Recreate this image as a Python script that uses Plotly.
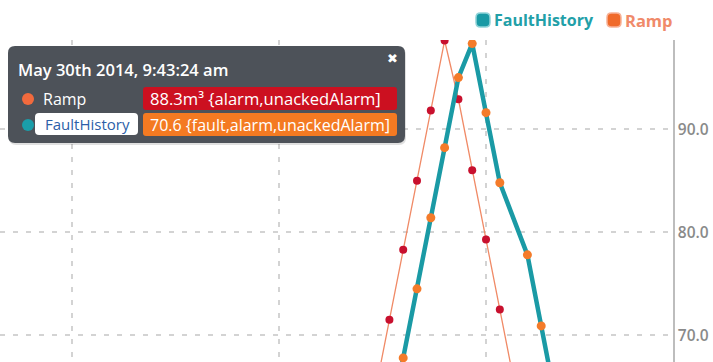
import plotly.graph_objects as go

# ---- data ----
ramp_times = ["2014-05-30 09:44:28", "2014-05-30 09:44:32", "2014-05-30 09:44:36",
              "2014-05-30 09:44:40", "2014-05-30 09:44:44", "2014-05-30 09:44:48",
              "2014-05-30 09:44:52", "2014-05-30 09:44:56", "2014-05-30 09:45:00",
              "2014-05-30 09:45:04", "2014-05-30 09:45:08"]
ramp_values = [64.7, 71.5, 78.3, 85.0, 91.8, 98.6, 92.9, 86.0, 79.3, 72.5, 65.7]

fault_times = ["2014-05-30 09:44:32", "2014-05-30 09:44:36", "2014-05-30 09:44:40",
               "2014-05-30 09:44:44", "2014-05-30 09:44:48", "2014-05-30 09:44:52",
               "2014-05-30 09:44:56", "2014-05-30 09:45:00", "2014-05-30 09:45:04",
               "2014-05-30 09:45:12", "2014-05-30 09:45:16", "2014-05-30 09:45:20"]
fault_values = [61.0, 67.8, 74.5, 81.4, 88.2, 95.0, 98.3, 91.6, 84.8, 77.8, 70.9, 64.0]

tooltip_title = "May 30th 2014, 9:43:24 am"
tooltip_rows = [
    ("Ramp", "88.3m³ {alarm,unackedAlarm]"),
    ("FaultHistory", "70.6 {fault,alarm,unackedAlarm]"),
]
legend_names = ["FaultHistory", "Ramp"]

# ---- styling ----
TEAL = "#1a9aa5"
ORANGE = "#f47b2a"
RAMP_LINE = "#f08a66"
RAMP_MARK = "#c8102e"
FONT = "Open Sans"

W, H = 713, 362
ML, MR, MT, MB = 0, 40, 40, 0
PW, PH = W - ML - MR, H - MT - MB


def fx(px):
    return (px - ML) / PW


def fy(py):
    return (H - MB - py) / PH


def rrect(x0, y0, x1, y1, r):
    pts = [
        ("M", [(x0 + r, y0)]), ("L", [(x1 - r, y0)]), ("Q", [(x1, y0), (x1, y0 + r)]),
        ("L", [(x1, y1 - r)]), ("Q", [(x1, y1), (x1 - r, y1)]),
        ("L", [(x0 + r, y1)]), ("Q", [(x0, y1), (x0, y1 - r)]),
        ("L", [(x0, y0 + r)]), ("Q", [(x0, y0), (x0 + r, y0)]),
    ]
    s = ""
    for cmd, coords in pts:
        s += cmd + " " + " ".join(f"{fx(a):.5f},{fy(b):.5f}" for a, b in coords) + " "
    return s + "Z"


fig = go.Figure()

fig.add_trace(go.Scatter(
    x=ramp_times, y=ramp_values, name="Ramp", mode="lines+markers",
    line=dict(color=RAMP_LINE, width=1.3),
    marker=dict(color=RAMP_MARK, size=8),
))
fig.add_trace(go.Scatter(
    x=fault_times, y=fault_values, name="FaultHistory", mode="lines+markers",
    line=dict(color=TEAL, width=4.5),
    marker=dict(color=ORANGE, size=9),
))

shapes = []
annotations = []

# tooltip panel
shapes.append(dict(type="path", xref="paper", yref="paper",
                   path=rrect(9, 48, 406, 145, 7),
                   fillcolor="rgba(0,0,0,0.12)", line=dict(width=0), layer="above"))
shapes.append(dict(type="path", xref="paper", yref="paper",
                   path=rrect(8, 46, 405, 143, 7),
                   fillcolor="#4d5259", line=dict(width=0), layer="above"))
annotations.append(dict(xref="paper", yref="paper", x=fx(16), y=fy(69),
                        xanchor="left", yanchor="middle", showarrow=False,
                        text=tooltip_title,
                        font=dict(family=FONT, size=16.5, color="white", weight=600)))
annotations.append(dict(xref="paper", yref="paper", x=fx(392), y=fy(59),
                        xanchor="center", yanchor="middle", showarrow=False,
                        text="✖", font=dict(family="DejaVu Sans", size=13, color="white")))

# row 1: Ramp
shapes.append(dict(type="circle", xref="paper", yref="paper",
                   x0=fx(22), x1=fx(34), y0=fy(93), y1=fy(105),
                   fillcolor="#f26a3d", line=dict(width=0), layer="above"))
annotations.append(dict(xref="paper", yref="paper", x=fx(41), y=fy(99),
                        xanchor="left", yanchor="middle", showarrow=False,
                        text=tooltip_rows[0][0],
                        font=dict(family=FONT, size=16, color="white")))
shapes.append(dict(type="path", xref="paper", yref="paper",
                   path=rrect(143, 87, 397, 110, 3),
                   fillcolor="#cc1020", line=dict(width=0), layer="above"))
annotations.append(dict(xref="paper", yref="paper", x=fx(148), y=fy(98.5),
                        xanchor="left", yanchor="middle", showarrow=False,
                        text=tooltip_rows[0][1],
                        font=dict(family=FONT, size=16.6, color="white")))

# row 2: FaultHistory
shapes.append(dict(type="circle", xref="paper", yref="paper",
                   x0=fx(22), x1=fx(34), y0=fy(119), y1=fy(131),
                   fillcolor="#1a9eaa", line=dict(width=0), layer="above"))
shapes.append(dict(type="path", xref="paper", yref="paper",
                   path=rrect(35, 113, 138, 135, 4),
                   fillcolor="white", line=dict(width=0), layer="above"))
annotations.append(dict(xref="paper", yref="paper", x=fx(87), y=fy(124),
                        xanchor="center", yanchor="middle", showarrow=False,
                        text=tooltip_rows[1][0],
                        font=dict(family=FONT, size=15, color="#2c5fa8")))
shapes.append(dict(type="path", xref="paper", yref="paper",
                   path=rrect(143, 113, 397, 136, 3),
                   fillcolor="#f47a22", line=dict(width=0), layer="above"))
annotations.append(dict(xref="paper", yref="paper", x=fx(148), y=fy(124.5),
                        xanchor="left", yanchor="middle", showarrow=False,
                        text=tooltip_rows[1][1],
                        font=dict(family=FONT, size=16, color="white")))

# legend
legend_items = [
    (legend_names[0], 483, TEAL, "#8fd3d8", "#22a0a8", 16),
    (legend_names[1], 614, "#f06a2a", "#f7b196", "#f08a6a", 16.5),
]
for name, cx, fill, border, tcolor, fsize in legend_items:
    shapes.append(dict(type="path", xref="paper", yref="paper",
                       path=rrect(cx - 7, 13, cx + 7, 27, 4.5),
                       fillcolor=fill, line=dict(color=border, width=1.5), layer="above"))
    annotations.append(dict(xref="paper", yref="paper", x=fx(cx + 9), y=fy(20),
                            xanchor="left", yanchor="middle", showarrow=False,
                            text=f"<b>{name}</b>",
                            font=dict(family=FONT, size=fsize, color=tcolor)))

fig.update_layout(
    width=W, height=H,
    margin=dict(l=ML, r=MR, t=MT, b=MB, pad=0),
    paper_bgcolor="white", plot_bgcolor="white",
    showlegend=False,
    shapes=shapes, annotations=annotations,
    xaxis=dict(
        type="date",
        range=["2014-05-30 09:42:39.13", "2014-05-30 09:45:54.2"],
        tick0="2014-05-30 09:43:00", dtick=60000,
        showgrid=True, gridcolor="#d3d3d3", gridwidth=1.5, griddash="5px,8px",
        showticklabels=False, zeroline=False, showline=False, automargin=False,
    ),
    yaxis=dict(
        side="right",
        range=[67.4, 98.65], tick0=0, dtick=10, tickformat=".1f",
        showgrid=True, gridcolor="#d3d3d3", gridwidth=1.5, griddash="5px,8px",
        showline=True, linecolor="#bdbdbd", linewidth=1.5,
        ticks="", ticklabelstandoff=0,
        tickfont=dict(family=FONT, size=15.5, color="#8a8a8a", weight=600),
        zeroline=False, automargin=False,
    ),
)

fig.write_html("out.html")
